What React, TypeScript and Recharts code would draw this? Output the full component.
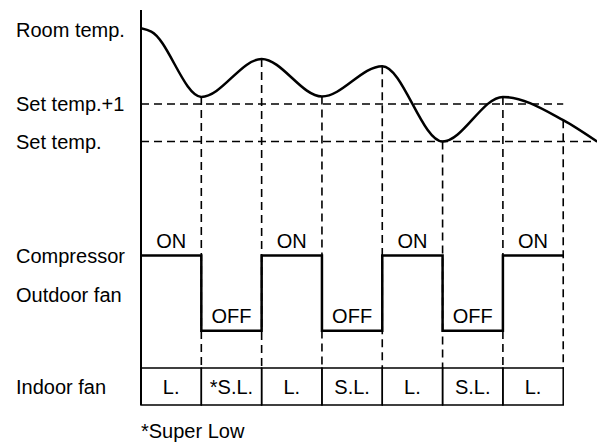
import React from "react";
import {
  ComposedChart,
  Line,
  XAxis,
  YAxis,
  ReferenceLine,
  ReferenceArea,
  ReferenceDot,
} from "recharts";

// time is counted in compressor intervals (0..7), the curve runs a bit past the last one
const roomTempTime = [0, 0.17, 1, 2, 3, 4, 5, 6, 7, 7.56];
// room temp in steps above the set temp (Set temp. = 0, Set temp.+1 = 1)
const roomTempValue = [3.02, 2.93, 1.19, 2.2, 1.2, 2.01, 0, 1.19, 0.57, 0];

const switchTimes = [1, 2, 3, 4, 5, 6, 7];
const compressorState = [1, 0, 1, 0, 1, 0, 1];
const compressorLabel = ["ON", "OFF", "ON", "OFF", "ON", "OFF", "ON"];
const indoorFanSpeed = ["L.", "*S.L.", "L.", "S.L.", "L.", "S.L.", "L."];

const tempLevelValue = [1, 0];
const tempLevelLabel = ["Set temp.+1", "Set temp."];
const tempLevelEnd = [7, 7.56];

// row names on the left, with their value on their own axis
const tempRowLabel = ["Room temp."];
const tempRowValue = [2.99];
const compRowLabel = ["Compressor", "Outdoor fan"];
const compRowValue = [1, 0.48];
const fanRowLabel = ["Indoor fan"];
const fanRowValue = [0.5];
const footnote = "*Super Low";
const footnoteValue = -0.69;

const FONT = '"Liberation Sans", Arial, Helvetica, sans-serif';
const W = 602;
const H = 442;
const PLOT = { top: 10, bottom: 405, left: 141, right: 597 };

// each hidden y axis: pixel row of its zero and pixels per unit
const domainFor = (zeroPx: number, unitPx: number): [number, number] => [
  (zeroPx - PLOT.bottom) / unitPx,
  (zeroPx - PLOT.top) / unitPx,
];
const TEMP_AXIS = { zero: 141.5, unit: 37.5 };
const COMP_AXIS = { zero: 330.7, unit: 75.2 };
const FAN_AXIS = { zero: 405, unit: 37 };
// top of the indoor fan row, in temp units
const fanTopInTemp =
  (TEMP_AXIS.zero - (FAN_AXIS.zero - FAN_AXIS.unit)) / TEMP_AXIS.unit;

const curveData = roomTempTime.map((t, i) => ({ t, temp: roomTempValue[i] }));
const compressorData = [
  ...compressorState.map((s, i) => ({ t: i, state: s })),
  { t: compressorState.length, state: compressorState[compressorState.length - 1] },
];

const rowLabel = (text: string) => (props: any) => {
  const vb = props.viewBox || {};
  return (
    <text x={16} y={vb.y} dy="0.36em" fontSize={20} fontFamily={FONT} fill="#000">
      {text}
    </text>
  );
};

const footLabel = (text: string) => (props: any) => {
  const vb = props.viewBox || {};
  return (
    <text x={vb.x} y={vb.y} dy="0.36em" fontSize={20} fontFamily={FONT} fill="#000">
      {text}
    </text>
  );
};

const cellLabel = (text: string) => (props: any) => {
  const vb = props.viewBox || {};
  return (
    <text
      x={vb.x + vb.width / 2}
      y={vb.y + vb.height / 2}
      dy="0.36em"
      textAnchor="middle"
      fontSize={20}
      fontFamily={FONT}
      fill="#000"
    >
      {text}
    </text>
  );
};

const stateLabel = (text: string) => (props: any) => {
  const vb = props.viewBox || {};
  return (
    <text
      x={vb.x + (vb.width || 0) / 2}
      y={vb.y + (vb.height || 0) / 2 - 8}
      textAnchor="middle"
      fontSize={20}
      fontFamily={FONT}
      fill="#000"
    >
      {text}
    </text>
  );
};

const DASH = "8 5";

export default function App() {
  return (
    <div style={{ position: "absolute", left: 0, top: 0, width: W, height: H, background: "#fff" }}>
      <ComposedChart
        width={W}
        height={H}
        margin={{ top: PLOT.top, right: W - PLOT.right, bottom: H - PLOT.bottom, left: PLOT.left }}
      >
        <XAxis type="number" dataKey="t" domain={[0, 7.56]} allowDataOverflow hide />
        <YAxis yAxisId="temp" type="number" domain={domainFor(TEMP_AXIS.zero, TEMP_AXIS.unit)} allowDataOverflow hide />
        <YAxis yAxisId="comp" type="number" domain={domainFor(COMP_AXIS.zero, COMP_AXIS.unit)} allowDataOverflow hide />
        <YAxis yAxisId="fan" type="number" domain={domainFor(FAN_AXIS.zero, FAN_AXIS.unit)} allowDataOverflow hide />

        {/* set temp levels */}
        {tempLevelValue.map((v, i) => (
          <ReferenceLine
            key={"lvl" + i}
            yAxisId="temp"
            segment={[{ x: 0, y: v }, { x: tempLevelEnd[i], y: v }]}
            stroke="#000"
            strokeWidth={1.6}
            strokeDasharray={DASH}
          />
        ))}
        {tempLevelValue.map((v, i) => (
          <ReferenceLine key={"lvlLab" + i} yAxisId="temp" y={v} stroke="none" label={rowLabel(tempLevelLabel[i])} />
        ))}
        {tempRowValue.map((v, i) => (
          <ReferenceLine key={"tr" + i} yAxisId="temp" y={v} stroke="none" label={rowLabel(tempRowLabel[i])} />
        ))}
        {compRowValue.map((v, i) => (
          <ReferenceLine key={"cr" + i} yAxisId="comp" y={v} stroke="none" label={rowLabel(compRowLabel[i])} />
        ))}
        {fanRowValue.map((v, i) => (
          <ReferenceLine key={"fr" + i} yAxisId="fan" y={v} stroke="none" label={rowLabel(fanRowLabel[i])} />
        ))}
        <ReferenceLine yAxisId="fan" y={footnoteValue} ifOverflow="visible" stroke="none" label={footLabel(footnote)} />

        {/* switching instants, dropped from the curve to the fan row */}
        {switchTimes.map((t) => (
          <ReferenceLine
            key={"sw" + t}
            yAxisId="temp"
            segment={[
              { x: t, y: roomTempValue[roomTempTime.indexOf(t)] },
              { x: t, y: fanTopInTemp },
            ]}
            stroke="#000"
            strokeWidth={1.6}
            strokeDasharray={DASH}
          />
        ))}

        {/* indoor fan row */}
        {indoorFanSpeed.map((s, i) => (
          <ReferenceArea
            key={"fan" + i}
            yAxisId="fan"
            x1={i}
            x2={i + 1}
            y1={0}
            y2={1}
            fill="none"
            stroke="#000"
            strokeWidth={1.5}
            label={cellLabel(s)}
          />
        ))}

        {/* compressor state labels */}
        {compressorLabel.map((s, i) => (
          <ReferenceDot
            key={"cl" + i}
            yAxisId="comp"
            x={i + 0.5}
            y={compressorState[i]}
            r={1}
            fill="none"
            stroke="none"
            label={stateLabel(s)}
          />
        ))}

        {/* vertical axis */}
        <ReferenceLine yAxisId="temp" x={0} stroke="#000" strokeWidth={2} />

        <Line
          yAxisId="comp"
          data={compressorData}
          dataKey="state"
          type="stepAfter"
          stroke="#000"
          strokeWidth={2.5}
          dot={false}
          isAnimationActive={false}
        />
        <Line
          yAxisId="temp"
          data={curveData}
          dataKey="temp"
          type="monotone"
          stroke="#000"
          strokeWidth={2.5}
          dot={false}
          isAnimationActive={false}
        />
      </ComposedChart>
    </div>
  );
}
